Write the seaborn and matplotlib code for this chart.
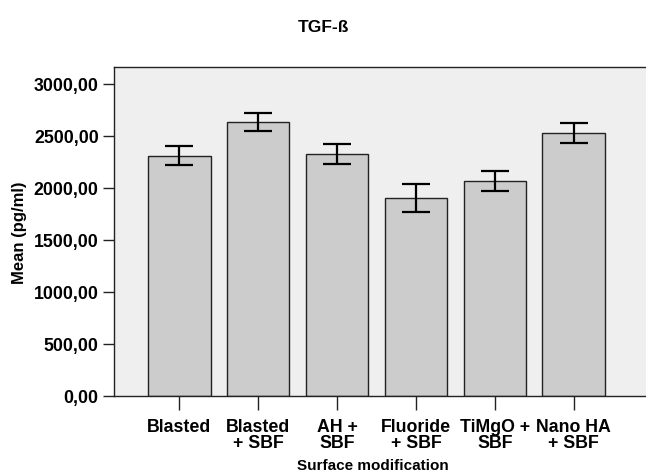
import matplotlib
matplotlib.use("Agg")
import matplotlib.pyplot as plt
import seaborn as sns
import pandas as pd
import numpy as np
from matplotlib.ticker import FuncFormatter

categories = ["Blasted", "Blasted\n+ SBF", "AH +\nSBF", "Fluoride\n+ SBF", "TiMgO +\nSBF", "Nano HA\n+ SBF"]
means = [2310, 2638, 2327, 1904, 2067, 2528]
errors = [90, 87, 95, 137, 97, 92]
yticks = [0, 500, 1000, 1500, 2000, 2500, 3000]

sns.set_theme(style="white")
plt.rcParams['font.family'] = ['Liberation Sans', 'DejaVu Sans']
plt.rcParams['font.weight'] = 'bold'
plt.rcParams['text.color'] = 'black'
plt.rcParams['axes.labelcolor'] = 'black'
plt.rcParams['xtick.color'] = 'black'
plt.rcParams['ytick.color'] = 'black'

df = pd.DataFrame({"cat": categories, "mean": means})

fig = plt.figure(figsize=(6.46, 4.77), dpi=100)
ax = fig.add_axes([114/646, 1-397/477, 1-114/646 + 0.01, (397-68)/477])
ax.set_facecolor("#EFEFEF")

sns.barplot(data=df, x="cat", y="mean", color="#CCCCCC", edgecolor="#222222",
            linewidth=1.0, width=0.79, errorbar=None, saturation=1, ax=ax)
ax.errorbar(np.arange(len(categories)), means, yerr=errors, fmt="none",
            ecolor="black", elinewidth=1.6, capsize=10, capthick=1.6)

ax.set_xlim(-0.83, len(categories) - 0.0)
ax.set_ylim(0, 3163)
ax.set_yticks(yticks)
ax.yaxis.set_major_formatter(FuncFormatter(lambda v, p: f"{int(v)},00"))
ax.tick_params(axis="y", direction="out", length=8, width=1, color="#222222",
               labelcolor="black", labelsize=12.8, pad=3, left=True)
ax.tick_params(axis="x", direction="out", length=10, width=1, color="#222222",
               labelcolor="black", labelsize=12.8, pad=6, bottom=True)
for lab in ax.get_xticklabels() + ax.get_yticklabels():
    lab.set_fontweight("bold")
    lab.set_linespacing(0.9)

for s in ["left", "bottom", "top"]:
    ax.spines[s].set_visible(True)
    ax.spines[s].set_color("#222222")
    ax.spines[s].set_linewidth(1.0)
ax.spines["right"].set_visible(False)

ax.set_xlabel("Surface modification", fontsize=11, fontweight="bold", color="black")
ax.xaxis.set_label_coords((373 - 114) / (652 - 114), -(466 - 397) / (397 - 68))
ax.xaxis.label.set_va("center")
ax.set_ylabel("Mean (pg/ml)", fontsize=12, fontweight="bold", labelpad=5, color="black")
fig.text(323/646, 1-27/477, "TGF-ß", ha="center", va="center", fontsize=12.5,
         fontweight="bold", color="black")

fig.savefig("out.png", dpi=100)
